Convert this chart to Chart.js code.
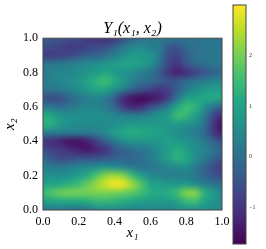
<!DOCTYPE html>
<html>
<head>
<meta charset="utf-8">
<style>
    html, body { margin: 0; padding: 0; background: #fff; }
    canvas { position: absolute; left: 0; top: 0; filter: blur(0.35px); }
</style>
<script src="https://cdn.jsdelivr.net/npm/chart.js@4/dist/chart.umd.min.js"></script>
</head>
<body>
<canvas id="mainChart" width="266" height="249"></canvas>
<canvas id="barChart" width="266" height="249"></canvas>
<script>
// ===== Data =====
const x1Values = [0, .05, .1, .15, .2, .25, .3, .35, .4, .45, .5, .55, .6, .65, .7, .75, .8, .85, .9, .95, 1];
const x2Values = [1, .95, .9, .85, .8, .75, .7, .65, .6, .55, .5, .45, .4, .35, .3, .25, .2, .15, .1, .05, 0];
const gridValues = [
    [-.3, -.4, -.5, -.6, -.7, -.9, -1.0, -1.1, -1.0, -.6, -.2, 0, .1, .2, .2, .1, .1, .1, .1, .1, .1],
    [-.6, -.7, -.8, -.9, -.9, -.8, -.7, -.6, -.2, .1, .4, .5, .3, .2, -.4, -.5, -.1, 0, .1, .1, .1],
    [-.9, -.9, -.8, -.7, -.5, -.3, -.2, 0, .3, .6, .8, .8, .7, .2, -.6, -.8, -.3, 0, .1, .2, .2],
    [.1, .15, .2, .3, .4, .5, .6, .75, .9, 1.0, 1.0, .9, .6, 0, -.7, -1.0, -.5, -.1, 0, .1, .1],
    [.2, .3, .4, .45, .55, .7, .85, 1.0, .85, .65, .5, .3, .1, -.4, -1.0, -1.3, -1.1, -.8, -.5, -.3, -.1],
    [.3, .35, .45, .55, .7, 1.0, 1.3, 1.5, 1.15, .75, .35, .05, -.1, -.3, -.5, -.4, -.1, .1, .3, .4, .5],
    [.1, .1, .2, .35, .55, .8, 1.0, 1.0, .6, .2, -.3, -.6, -.8, -1.0, -.85, -.3, .2, .5, .8, .9, .9],
    [-.5, -.7, -.6, -.2, .1, .3, .4, .2, -.4, -1.2, -1.5, -1.65, -1.5, -1.3, -.8, .1, .9, 1.0, 1.1, 1.1, 1.0],
    [.3, .1, 0, .1, .3, .4, .4, .2, -.2, -.9, -1.2, -1.1, -.6, -.2, .3, 1.1, 1.5, 1.3, .7, .1, -.3],
    [1.2, 1.0, .7, .6, .6, .6, .6, .5, .4, .3, .2, .3, .4, .7, .9, 1.5, 1.4, .9, .3, -.7, -1.2],
    [1.3, 1.2, .8, .6, .5, .5, .5, .5, .6, .7, .8, .8, .8, .8, .8, .8, .7, .5, .1, -.9, -1.5],
    [.3, .2, .2, .2, .2, .2, .3, .5, .9, 1.1, 1.2, 1.1, 1.0, .9, .8, .6, .4, .2, -.1, -.9, -1.4],
    [-1.0, -1.1, -1.3, -1.5, -1.5, -1.3, -.8, -.3, .2, .5, .7, .7, .7, .8, .9, .8, .7, .5, .2, -.2, -.6],
    [-.6, -.8, -.9, -1.1, -1.3, -1.4, -1.2, -1.0, -.5, -.2, 0, .1, .3, .6, .9, 1.2, .9, .6, .4, .1, -.2],
    [-.1, -.5, -.7, -.6, -.5, -.5, -.5, -.4, -.3, -.2, -.2, 0, .2, .6, .9, 1.3, 1.1, .6, .2, -.2, -.5],
    [.4, .2, .2, .3, .4, .5, .6, .7, .6, .4, .2, .1, .1, .2, .4, .5, .6, .2, -.2, -.6, -.9],
    [.6, .6, .6, .7, .9, 1.2, 1.7, 2.2, 2.3, 2.1, 1.5, .9, .5, .4, .3, .3, .3, .1, -.2, -.5, -.7],
    [1.0, 1.05, 1.15, 1.3, 1.5, 1.9, 2.3, 2.65, 2.95, 2.85, 2.3, 1.7, 1.0, .9, .8, .8, .8, .6, .3, .1, 0],
    [1.4, 1.7, 1.9, 2.0, 2.0, 2.0, 2.05, 2.05, 2.0, 1.9, 1.75, 1.5, 1.2, 1.1, 1.2, 1.5, 2.1, 2.1, 1.3, .8, .5],
    [.9, 1.0, 1.1, 1.1, 1.1, 1.2, 1.4, 1.4, 1.3, 1.2, 1.0, .9, .8, .8, .8, 1.0, 1.4, 1.5, 1.0, .7, .5],
    [.2, .2, .2, .1, 0, .2, .4, .5, .5, .5, .4, .4, .5, .4, .4, .5, .6, .6, .6, .5, .5]
];
const axisTicks = [0, .2, .4, .6, .8, 1];
const barTicks = [-1, 0, 1, 2];
const valueMin = -1.73;
const valueMax = 3.0;
const viridisStops = ['#440154', '#482475', '#414487', '#355f8d', '#2a788e', '#21918c', '#22a884', '#44bf70', '#7ad151', '#bddf26', '#fde725'];

// ===== Colour helpers =====
function hexToRgb(hex) {
    return [1, 3, 5].map(i => parseInt(hex.slice(i, i + 2), 16));
}

function valueToColor(v) {
    const t = Math.max(0, Math.min(1, (v - valueMin) / (valueMax - valueMin))) * (viridisStops.length - 1);
    const i = Math.min(Math.floor(t), viridisStops.length - 2);
    const a = hexToRgb(viridisStops[i]);
    const b = hexToRgb(viridisStops[i + 1]);
    const c = a.map((ch, k) => Math.round(ch + (b[k] - ch) * (t - i)));
    return `rgb(${c[0]},${c[1]},${c[2]})`;
}

// ===== Shared plugins =====
// box round the axes, like the four spines
const spinesPlugin = {
    id: 'spines',
    afterDraw(chart) {
        const { ctx, chartArea: a } = chart;
        ctx.save();
        ctx.strokeStyle = '#444';
        ctx.lineWidth = 1;
        ctx.strokeRect(a.left, a.top, a.right - a.left, a.bottom - a.top);
        ctx.restore();
    }
};

// title over the axes, not over the whole page
const titleOverAxesPlugin = {
    id: 'titleOverAxes',
    afterLayout(chart) {
        chart.titleBlock.left = chart.chartArea.left;
        chart.titleBlock.right = chart.chartArea.right;
    }
};

// paints the scatter cells one pixel each and lets the canvas smooth them up, like imshow
const smoothCellsPlugin = {
    id: 'smoothCells',
    beforeDatasetDraw(chart, args) {
        const points = args.meta.data;
        const nx = x1Values.length;
        const ny = x2Values.length;
        const off = document.createElement('canvas');
        off.width = nx;
        off.height = ny;
        const offCtx = off.getContext('2d');
        points.forEach((pt, i) => {
            offCtx.fillStyle = chart.data.datasets[0].pointBackgroundColor[i];
            offCtx.fillRect(i % nx, Math.floor(i / nx), 1, 1);
        });
        const dx = points[1].x - points[0].x;
        const dy = points[nx].y - points[0].y;
        const { ctx, chartArea: a } = chart;
        ctx.save();
        ctx.beginPath();
        ctx.rect(a.left, a.top, a.right - a.left, a.bottom - a.top);
        ctx.clip();
        ctx.imageSmoothingEnabled = true;
        ctx.imageSmoothingQuality = 'high';
        ctx.drawImage(off, points[0].x - dx / 2, points[0].y - dy / 2, dx * nx, dy * ny);
        ctx.restore();
        return false;
    }
};

// ===== Heat map =====
const serif = '"Liberation Serif", serif';
const cells = [];
const cellColors = [];
x2Values.forEach((x2, row) => {
    x1Values.forEach((x1, col) => {
        cells.push({ x: x1, y: x2 });
        cellColors.push(valueToColor(gridValues[row][col]));
    });
});

function unitAxis(titleText) {
    return {
        type: 'linear',
        min: 0,
        max: 1,
        afterBuildTicks: scale => { scale.ticks = axisTicks.map(v => ({ value: v })); },
        grid: { display: false, drawTicks: true, tickLength: 4, tickColor: '#000' },
        border: { display: false },
        ticks: {
            color: '#000',
            padding: 1,
            maxRotation: 0,
            font: { family: serif, size: 12 },
            callback: v => v.toFixed(1)
        },
        title: {
            display: true,
            text: titleText,
            color: '#000',
            padding: { top: 0, bottom: 0 },
            font: { family: serif, size: 15, style: 'italic' }
        }
    };
}

new Chart(document.getElementById('mainChart'), {
    type: 'scatter',
    data: {
        datasets: [{
            data: cells,
            pointStyle: 'rect',
            pointBackgroundColor: cellColors
        }]
    },
    options: {
        responsive: false,
        animation: false,
        layout: { padding: { left: 1, right: 44, top: 0, bottom: 7 } },
        plugins: {
            legend: { display: false },
            tooltip: { enabled: false },
            title: {
                display: true,
                text: 'Y₁(x₁, x₂)',
                color: '#000',
                padding: { top: 19, bottom: 0 },
                font: { family: serif, size: 16, style: 'italic', weight: 'normal' }
            }
        },
        scales: {
            x: { ...unitAxis('x₁'), afterFit: s => { s.height = 32; } },
            y: { ...unitAxis('x₂'), afterFit: s => { s.width = 42; } }
        }
    },
    plugins: [smoothCellsPlugin, spinesPlugin, titleOverAxesPlugin]
});

// ===== Colour bar =====
function barGradient(context) {
    const area = context.chart.chartArea;
    if (!area) return viridisStops[0];
    const g = context.chart.ctx.createLinearGradient(0, area.bottom, 0, area.top);
    viridisStops.forEach((c, i) => g.addColorStop(i / (viridisStops.length - 1), c));
    return g;
}

new Chart(document.getElementById('barChart'), {
    type: 'bar',
    data: {
        labels: [''],
        datasets: [{
            data: [[valueMin, valueMax]],
            backgroundColor: barGradient,
            barPercentage: 1,
            categoryPercentage: 1
        }]
    },
    options: {
        responsive: false,
        animation: false,
        layout: { padding: { left: 233, right: 0, top: 5, bottom: 5 } },
        plugins: { legend: { display: false }, tooltip: { enabled: false } },
        scales: {
            x: { display: false },
            y: {
                position: 'right',
                min: valueMin,
                max: valueMax,
                afterBuildTicks: scale => { scale.ticks = barTicks.map(v => ({ value: v })); },
                afterFit: s => { s.width = 20; },
                grid: { display: false, drawTicks: true, tickLength: 2, tickColor: '#333' },
                border: { display: false },
                ticks: {
                    color: '#333',
                    padding: 1,
                    font: { family: serif, size: 6 },
                    callback: v => String(v).replace('-', '−')
                }
            }
        }
    },
    plugins: [spinesPlugin]
});
</script>
</body>
</html>
